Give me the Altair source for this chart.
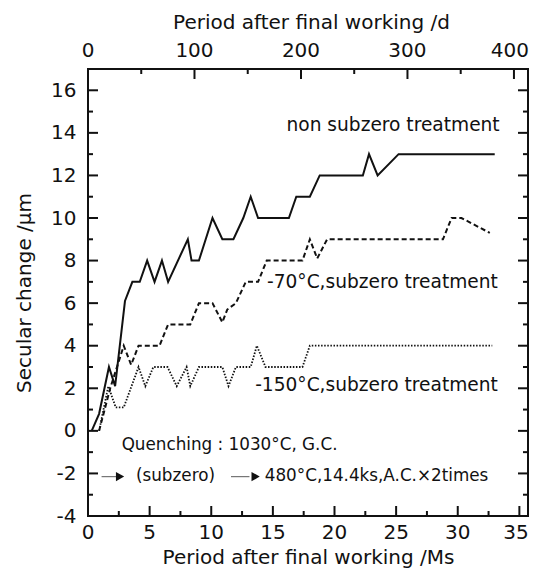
import altair as alt
import pandas as pd

# ---- data ----
SOLID_MS = [0.3, 0.9, 1.7, 2.2, 3.0, 3.6, 4.2, 4.8, 5.4, 6.0, 6.5, 8.1, 8.4, 9.0, 10.1, 10.9, 11.8,
            12.6, 13.2, 13.8, 16.3, 16.9, 18.0, 18.8, 22.3, 22.8, 23.5, 25.2, 33.0]
SOLID_UM = [0.0, 0.8, 3.0, 2.1, 6.1, 7.0, 7.0, 8.0, 7.0, 8.0, 7.0, 9.0, 8.0, 8.0, 10.0, 9.0, 9.0,
            10.0, 11.0, 10.0, 10.0, 11.0, 11.0, 12.0, 12.0, 13.0, 12.0, 13.0, 13.0]

DASH_MS = [0.9, 1.8, 2.9, 3.5, 4.1, 5.8, 6.5, 8.3, 9.0, 10.1, 10.9, 11.3, 12.0, 12.8, 13.8, 14.5,
           17.4, 18.0, 18.6, 19.4, 28.8, 29.5, 30.3, 32.6]
DASH_UM = [0.0, 2.0, 4.0, 3.1, 4.0, 4.0, 5.0, 5.0, 6.0, 6.0, 5.1, 5.7, 6.0, 7.0, 7.0, 8.0,
           8.0, 9.0, 8.1, 9.0, 9.0, 10.0, 10.0, 9.3]

DOT_MS = [0.9, 1.65, 2.25, 2.9, 4.1, 4.65, 5.3, 6.45, 7.2, 8.0, 8.3, 9.0, 10.9, 11.4, 12.0, 13.2,
          13.7, 14.4, 17.4, 18.0, 32.8]
DOT_UM = [0.0, 2.1, 1.1, 1.1, 3.0, 2.1, 3.0, 3.0, 2.1, 3.0, 2.1, 3.0, 3.0, 2.1, 3.0, 3.0,
          4.0, 3.0, 3.0, 4.0, 4.0]

X_MAJOR = [0, 5, 10, 15, 20, 25, 30, 35]
X_MINOR = [2.5, 7.5, 12.5, 17.5, 22.5, 27.5, 32.5]
Y_MAJOR = [-4, -2, 0, 2, 4, 6, 8, 10, 12, 14, 16]
Y_MINOR = [-3, -1, 1, 3, 5, 7, 9, 11, 13, 15]
D_MAJOR = [0, 100, 200, 300, 400]
D_MINOR = [50, 150, 250, 350]

SERIES_LABELS = ["non subzero treatment", "-70°C,subzero treatment", "-150°C,subzero treatment"]
SERIES_LABEL_X = [33.4, 33.25, 33.25]
SERIES_LABEL_Y = [14.1, 6.7, 1.89]

NOTES = ["Quenching : 1030°C, G.C.", "(subzero)", "480°C,14.4ks,A.C.×2times"]
NOTE_X = [2.73, 3.89, 14.34]
NOTE_Y = [-0.9, -2.34, -2.34]

ARROW_X1 = [1.1, 11.6]
ARROW_X2 = [2.3, 13.1]
ARROW_HEAD_X = [2.6, 13.6]
ARROW_Y = [-2.15, -2.15]

MS_MAX = 35.7
DAY_PER_MS = 1 / 0.0864

W, H = 440, 447
FONT = "DejaVu Sans"
INK = "#111111"
LBL = 20

xs = alt.Scale(domain=[0, MS_MAX], nice=False, zero=False)
ys = alt.Scale(domain=[-4, 17], nice=False, zero=False)
ds = alt.Scale(domain=[0, MS_MAX * DAY_PER_MS], nice=False, zero=False)


def line_df(xv, yv):
    return pd.DataFrame({"ms": xv, "um": yv, "o": list(range(len(xv)))})


x_axis = alt.Axis(values=X_MAJOR, labels=False, ticks=False, domain=False, grid=False,
                  title="Period after final working /Ms", titleFont=FONT, titleFontSize=20,
                  titleFontWeight="normal", titleColor=INK, titleX=W / 2, titleY=47,
                  titleAlign="center", titleBaseline="alphabetic")
y_axis = alt.Axis(values=Y_MAJOR, ticks=False, domain=False, grid=False, labelFontSize=LBL,
                  labelFont=FONT, labelColor=INK, labelPadding=12, labelExpr="toString(datum.value)",
                  title="Secular change /μm", titleFont=FONT, titleFontSize=20,
                  titleFontWeight="normal", titleColor=INK, titleX=-58, titleY=H / 2,
                  titleAlign="center", titleBaseline="alphabetic", titleAngle=270)

solid = alt.Chart(line_df(SOLID_MS, SOLID_UM)).mark_line(color=INK, strokeWidth=2).encode(
    x=alt.X("ms:Q", scale=xs, axis=x_axis),
    y=alt.Y("um:Q", scale=ys, axis=y_axis),
    order="o:Q",
)
dashed = alt.Chart(line_df(DASH_MS, DASH_UM)).mark_line(color=INK, strokeWidth=2, strokeDash=[5, 3]).encode(
    x=alt.X("ms:Q", scale=xs), y=alt.Y("um:Q", scale=ys), order="o:Q")
dotted = alt.Chart(line_df(DOT_MS, DOT_UM)).mark_line(color=INK, strokeWidth=1.8, strokeDash=[1.5, 1.6]).encode(
    x=alt.X("ms:Q", scale=xs), y=alt.Y("um:Q", scale=ys), order="o:Q")

# ticks (inward)
bx_major = alt.Chart(pd.DataFrame({"v": X_MAJOR})).mark_rule(color=INK, strokeWidth=2).encode(
    x=alt.X("v:Q", scale=xs), y=alt.value(H), y2=alt.value(H - 10))
bx_minor = alt.Chart(pd.DataFrame({"v": X_MINOR})).mark_rule(color=INK, strokeWidth=2).encode(
    x=alt.X("v:Q", scale=xs), y=alt.value(H), y2=alt.value(H - 5))
ly_major = alt.Chart(pd.DataFrame({"v": Y_MAJOR})).mark_rule(color=INK, strokeWidth=2).encode(
    y=alt.Y("v:Q", scale=ys), x=alt.value(0), x2=alt.value(10))
ly_minor = alt.Chart(pd.DataFrame({"v": Y_MINOR})).mark_rule(color=INK, strokeWidth=2).encode(
    y=alt.Y("v:Q", scale=ys), x=alt.value(0), x2=alt.value(5))
ry_major = alt.Chart(pd.DataFrame({"v": Y_MAJOR})).mark_rule(color=INK, strokeWidth=2).encode(
    y=alt.Y("v:Q", scale=ys), x=alt.value(W), x2=alt.value(W - 10))
ry_minor = alt.Chart(pd.DataFrame({"v": Y_MINOR})).mark_rule(color=INK, strokeWidth=2).encode(
    y=alt.Y("v:Q", scale=ys), x=alt.value(W), x2=alt.value(W - 5))

# bottom tick labels (last one nudged left as in the reference)
bx_lab = alt.Chart(pd.DataFrame({"v": X_MAJOR[:-1]})).mark_text(
    align="center", baseline="alphabetic", font=FONT, fontSize=LBL, color=INK).encode(
    x=alt.X("v:Q", scale=xs), y=alt.value(470), text=alt.Text("v:Q"))
bx_lab_last = alt.Chart(pd.DataFrame({"v": X_MAJOR[-1:]})).mark_text(
    align="center", baseline="alphabetic", font=FONT, fontSize=LBL, color=INK, dx=-3.5).encode(
    x=alt.X("v:Q", scale=xs), y=alt.value(470), text=alt.Text("v:Q"))

series_text = alt.Chart(pd.DataFrame({"t": SERIES_LABELS, "x": SERIES_LABEL_X, "y": SERIES_LABEL_Y})).mark_text(
    align="right", baseline="alphabetic", font=FONT, fontSize=18.6, color=INK).encode(
    x=alt.X("x:Q", scale=xs), y=alt.Y("y:Q", scale=ys), text="t:N")
note_text = alt.Chart(pd.DataFrame({"t": NOTES, "x": NOTE_X, "y": NOTE_Y})).mark_text(
    align="left", baseline="alphabetic", font=FONT, fontSize=16.8, color=INK).encode(
    x=alt.X("x:Q", scale=xs), y=alt.Y("y:Q", scale=ys), text="t:N")
arrow_df = pd.DataFrame({"x1": ARROW_X1, "x2": ARROW_X2, "hx": ARROW_HEAD_X, "y": ARROW_Y})
arrow_line = alt.Chart(arrow_df).mark_rule(color="#777777", strokeWidth=1.2).encode(
    x=alt.X("x1:Q", scale=xs), x2="x2:Q", y=alt.Y("y:Q", scale=ys))
arrow_head = alt.Chart(arrow_df).mark_point(shape="triangle-right", filled=True, size=90, color=INK, opacity=1).encode(
    x=alt.X("hx:Q", scale=xs), y=alt.Y("y:Q", scale=ys))

inner = alt.layer(solid, dashed, dotted, bx_major, bx_minor, ly_major, ly_minor, ry_major, ry_minor,
                  bx_lab, bx_lab_last, series_text, note_text, arrow_line, arrow_head)

top_axis = alt.Axis(orient="top", values=D_MAJOR, labels=False, ticks=False, domain=False, grid=False,
                    title="Period after final working /d", titleFont=FONT, titleFontSize=20,
                    titleFontWeight="normal", titleColor=INK, titleX=223, titleY=-41,
                    titleAlign="center", titleBaseline="alphabetic")
top_major = alt.Chart(pd.DataFrame({"d": D_MAJOR})).mark_rule(color=INK, strokeWidth=2).encode(
    x=alt.X("d:Q", scale=ds, axis=top_axis), y=alt.value(0), y2=alt.value(10))
top_minor = alt.Chart(pd.DataFrame({"d": D_MINOR})).mark_rule(color=INK, strokeWidth=2).encode(
    x=alt.X("d:Q", scale=ds), y=alt.value(0), y2=alt.value(5))
top_lab = alt.Chart(pd.DataFrame({"d": D_MAJOR[:-1]})).mark_text(
    align="center", baseline="alphabetic", font=FONT, fontSize=LBL, color=INK).encode(
    x=alt.X("d:Q", scale=ds), y=alt.value(-12), text=alt.Text("d:Q"))
top_lab_last = alt.Chart(pd.DataFrame({"d": D_MAJOR[-1:]})).mark_text(
    align="center", baseline="alphabetic", font=FONT, fontSize=LBL, color=INK, dx=-4).encode(
    x=alt.X("d:Q", scale=ds), y=alt.value(-12), text=alt.Text("d:Q"))
top = alt.layer(top_major, top_minor, top_lab, top_lab_last)

chart = alt.layer(inner, top).resolve_scale(x="independent").properties(
    width=W, height=H,
    autosize=alt.AutoSizeParams(type="none"),
    padding={"left": 80, "top": 61, "right": 1, "bottom": 52},
    background="white",
).configure_view(stroke=INK, strokeWidth=2).configure_axis(grid=False)

chart.save("out.html", embed_options={"renderer": "svg", "actions": False})
